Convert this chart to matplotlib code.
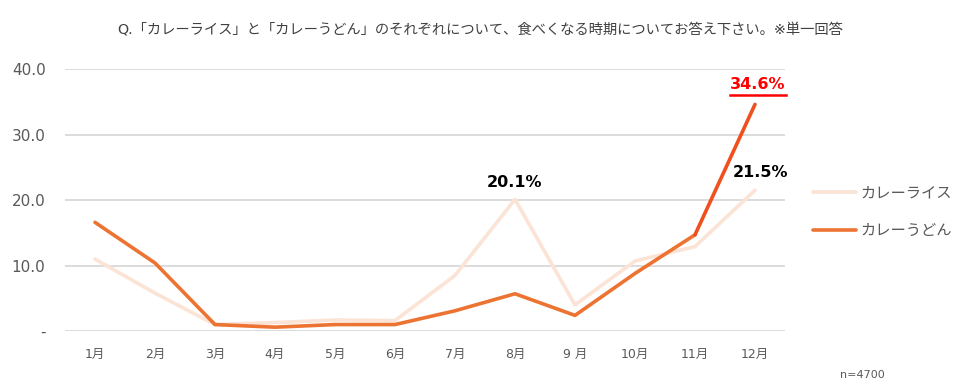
import matplotlib.pyplot as plt
from matplotlib.lines import Line2D

plt.rcParams['font.family'] = ['DejaVu Sans', 'Noto Sans CJK JP']

months = ['1月', '2月', '3月', '4月', '5月', '6月', '7月', '8月', '9 月', '10月', '11月', '12月']
rice = [11.0, 5.8, 1.0, 1.3, 1.7, 1.6, 8.5, 20.1, 4.0, 10.7, 12.9, 21.5]
udon = [16.6, 10.4, 1.0, 0.6, 1.0, 1.0, 3.1, 5.7, 2.4, 8.8, 14.7, 34.6]
series_names = ['カレーライス', 'カレーうどん']
title = 'Q.「カレーライス」と「カレーうどん」のそれぞれについて、食べくなる時期についてお答え下さい。※単一回答'

c_rice = '#FBE3D5'
c_udon = '#EC7331'
c_peak = '#F0501E'

fig = plt.figure(figsize=(9.6, 3.9), dpi=100)
ax = fig.add_axes([0.0677, 0.151, 0.75, 0.672])

x = list(range(len(months)))
ax.plot(x, rice, color=c_rice, lw=2.6, solid_capstyle='round', label=series_names[0], zorder=3)
ax.plot(x[:-1], udon[:-1], color=c_udon, lw=2.6, solid_capstyle='round', label=series_names[1], zorder=4)
ax.plot(x[-2:], udon[-2:], color=c_peak, lw=2.6, solid_capstyle='round', zorder=4)

ax.set_xlim(-0.5, 11.5)
ax.set_ylim(0, 40)
ax.set_yticks([0, 10, 20, 30, 40])
ax.set_yticklabels(['-', '10.0', '20.0', '30.0', '40.0'], fontsize=11, color='#595959')
ax.set_xticks(x)
ax.set_xticklabels(months, fontsize=9, color='#595959')
ax.tick_params(length=0)
ax.tick_params(axis='y', pad=14)
ax.tick_params(axis='x', pad=12)
ax.grid(axis='y', color='#D9D9D9', lw=1.3)
ax.set_axisbelow(True)
for s in ax.spines.values():
    s.set_visible(False)

# data labels
ax.annotate(f'{rice[7]:.1f}%', (7, rice[7]), xytext=(0, 12), textcoords='offset points',
            ha='center', va='center', fontsize=11.5, fontweight='bold', color='black')
ax.annotate(f'{rice[11]:.1f}%', (11, rice[11]), xytext=(4, 13), textcoords='offset points',
            ha='center', va='center', fontsize=11.5, fontweight='bold', color='black')
peak = ax.annotate(f'{udon[11]:.1f}%', (11, udon[11]), xytext=(2, 14), textcoords='offset points',
                   ha='center', va='center', fontsize=11.5, fontweight='bold', color='#FF0000')

fig.canvas.draw()
bb = peak.get_window_extent().transformed(fig.transFigure.inverted())
uy = bb.y0 - 0.006
fig.add_artist(Line2D([bb.x0, bb.x1], [uy, uy], color='#FF0000', lw=1.8, transform=fig.transFigure))

ax.legend(loc='center left', bbox_to_anchor=(1.02, 0.455), frameon=False, fontsize=11,
          labelcolor='#595959', handlelength=2.8, handletextpad=0.3, labelspacing=1.5)

fig.text(0.5, 0.925, title, ha='center', va='center', fontsize=10.3, color='#404040')
fig.text(0.898, 0.038, 'n=4700', ha='center', va='center', fontsize=8, color='#595959')

fig.savefig('out.png', dpi=100)
